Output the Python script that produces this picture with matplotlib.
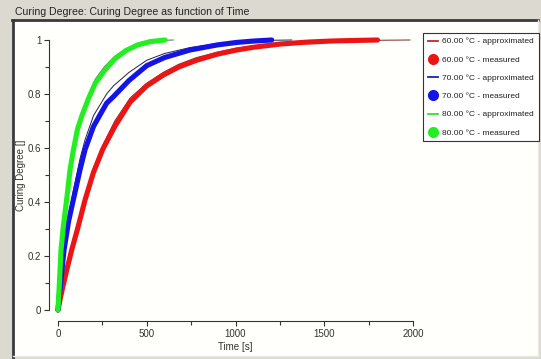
import matplotlib
matplotlib.use("Agg")
import matplotlib.pyplot as plt
from matplotlib.lines import Line2D
from matplotlib.patches import Rectangle
from matplotlib.ticker import MultipleLocator, FuncFormatter

plt.rcParams['font.family'] = ['Liberation Sans', 'DejaVu Sans']

# ---- data ----
red_meas_t = [0, 12, 25, 50, 77, 110, 152, 200, 252, 320, 406, 500, 593, 680, 781, 900, 1007, 1100, 1251, 1400, 1532, 1650, 1800]
red_meas_y = [0, 0.04, 0.08, 0.15, 0.222, 0.30, 0.407, 0.51, 0.595, 0.68, 0.77, 0.83, 0.87, 0.90, 0.925, 0.948, 0.963, 0.973, 0.985, 0.992, 0.996, 0.998, 1.0]

red_appr_t = [0, 12, 25, 50, 77, 110, 152, 200, 252, 320, 406, 500, 593, 680, 781, 900, 1007, 1100, 1251, 1400, 1532, 1800, 1983]
red_appr_y = [0, 0.042, 0.085, 0.16, 0.235, 0.32, 0.42, 0.525, 0.61, 0.70, 0.785, 0.84, 0.88, 0.91, 0.935, 0.955, 0.97, 0.978, 0.988, 0.994, 0.997, 0.999, 1.0]

blue_meas_t = [0, 7, 15, 34, 60, 86, 124, 152, 200, 274, 312, 400, 500, 600, 744, 900, 1007, 1100, 1204]
blue_meas_y = [0, 0.05, 0.10, 0.222, 0.33, 0.407, 0.519, 0.593, 0.68, 0.766, 0.79, 0.85, 0.905, 0.935, 0.963, 0.982, 0.991, 0.996, 1.0]

blue_appr_t = [0, 7, 15, 34, 60, 86, 124, 152, 200, 274, 312, 400, 500, 600, 744, 900, 1007, 1204, 1317]
blue_appr_y = [0, 0.05, 0.10, 0.23, 0.35, 0.44, 0.56, 0.63, 0.72, 0.80, 0.83, 0.88, 0.925, 0.95, 0.972, 0.987, 0.993, 0.999, 1.0]

green_meas_t = [0, 4, 8, 17, 30, 49, 68, 86, 110, 135, 170, 210, 260, 320, 380, 450, 520, 603]
green_meas_y = [0, 0.05, 0.10, 0.222, 0.31, 0.41, 0.52, 0.59, 0.67, 0.72, 0.78, 0.84, 0.885, 0.93, 0.96, 0.982, 0.994, 1.0]

green_appr_t = [0, 4, 8, 17, 30, 49, 68, 86, 110, 135, 170, 210, 260, 320, 380, 450, 520, 603, 650]
green_appr_y = [0, 0.05, 0.10, 0.225, 0.32, 0.42, 0.53, 0.60, 0.68, 0.735, 0.795, 0.855, 0.9, 0.94, 0.966, 0.985, 0.995, 0.999, 1.0]

legend_labels = ["60.00 °C - approximated", "60.00 °C - measured",
                 "70.00 °C - approximated", "70.00 °C - measured",
                 "80.00 °C - approximated", "80.00 °C - measured"]

title = "Curing Degree: Curing Degree as function of Time"

W, H = 541, 359
fig = plt.figure(figsize=(W / 100, H / 100), dpi=100)
fig.patch.set_facecolor('#dcd9d0')

def fx(px):
    return px / W

def fy(py):
    return 1 - py / H

# white panel
panel = Rectangle((fx(13), fy(356)), fx(538) - fx(13), fy(20) - fy(356),
                  transform=fig.transFigure, facecolor='#fffffb',
                  edgecolor='none', zorder=-10)
fig.add_artist(panel)
for xs, ys, c, w in [([13, 13], [359, 20], '#3a3a3a', 2.0),
                     ([12, 538], [20, 20], '#3a3a3a', 2.0),
                     ([538, 538], [356, 20], '#ecebe6', 1.0),
                     ([13, 538], [356, 356], '#ecebe6', 1.0)]:
    ln = Line2D([fx(v) for v in xs], [fy(v) for v in ys], transform=fig.transFigure,
                color=c, lw=w, zorder=-5)
    fig.add_artist(ln)

fig.text(fx(15), fy(12), title, fontsize=7.6, color='#222222', va='center', ha='left')

ax = fig.add_axes([fx(58), fy(310), fx(413) - fx(58), fy(40) - fy(310)])
ax.set_zorder(5)
ax.set_facecolor('none')
ax.set_xlim(0, 2000)
ax.set_ylim(0, 1)

red, blue, green = '#ec1515', '#1414e6', '#22ee22'

ax.plot(red_appr_t, red_appr_y, color='#7a2424', lw=0.7, clip_on=False, zorder=2)
ax.plot(blue_appr_t, blue_appr_y, color='#202050', lw=0.7, clip_on=False, zorder=2)
ax.plot(green_appr_t, green_appr_y, color='#5a6a5a', lw=0.7, clip_on=False, zorder=2)

ax.plot(red_meas_t, red_meas_y, color=red, lw=3.7, solid_capstyle='round',
        solid_joinstyle='round', clip_on=False, zorder=3)
ax.plot(blue_meas_t, blue_meas_y, color=blue, lw=3.7, solid_capstyle='round',
        solid_joinstyle='round', clip_on=False, zorder=3)
ax.plot(green_meas_t, green_meas_y, color=green, lw=3.7, solid_capstyle='round',
        solid_joinstyle='round', clip_on=False, zorder=3)

for s in ['top', 'right']:
    ax.spines[s].set_visible(False)
ax.spines['left'].set_position(('outward', 6.5))
ax.spines['bottom'].set_position(('outward', 8.0))
ax.spines['left'].set_bounds(0, 1)
ax.spines['bottom'].set_bounds(0, 2000)
for s in ['left', 'bottom']:
    ax.spines[s].set_color('#333333')
    ax.spines[s].set_linewidth(0.8)

ax.xaxis.set_major_locator(MultipleLocator(500))
ax.xaxis.set_minor_locator(MultipleLocator(250))
ax.yaxis.set_major_locator(MultipleLocator(0.2))
ax.yaxis.set_minor_locator(MultipleLocator(0.1))
ax.yaxis.set_major_formatter(FuncFormatter(lambda v, p: ('%g' % round(v, 2))))
ax.tick_params(which='both', direction='out', color='#333333', width=0.8,
               labelsize=7, labelcolor='#333333')
ax.tick_params(which='major', length=3.5, pad=2)
ax.tick_params(which='minor', length=3.0)

ax.set_xlabel('Time [s]', fontsize=7, color='#333333', labelpad=2)
ax.set_ylabel('Curing Degree []', fontsize=7, color='#333333')
ax.yaxis.set_label_coords((26 - 58) / 355, 0.5)

handles = [
    Line2D([], [], color='#c02828', lw=1.3),
    Line2D([], [], color=red, lw=0, marker='o', markersize=7),
    Line2D([], [], color='#2020b0', lw=1.3),
    Line2D([], [], color=blue, lw=0, marker='o', markersize=7),
    Line2D([], [], color='#33dd33', lw=1.3),
    Line2D([], [], color=green, lw=0, marker='o', markersize=7),
]
leg = ax.legend(handles, legend_labels, loc='upper left',
                bbox_to_anchor=(fx(423), fy(33)), bbox_transform=fig.transFigure,
                borderaxespad=0, fontsize=6.0, frameon=True, fancybox=False,
                edgecolor='#333333', framealpha=1, handlelength=1.3,
                handletextpad=0.45, labelspacing=1.25, borderpad=0.55)
leg.get_frame().set_linewidth(0.8)
for t in leg.get_texts():
    t.set_color('#222222')

fig.savefig('out.png', dpi=100, facecolor=fig.get_facecolor())
